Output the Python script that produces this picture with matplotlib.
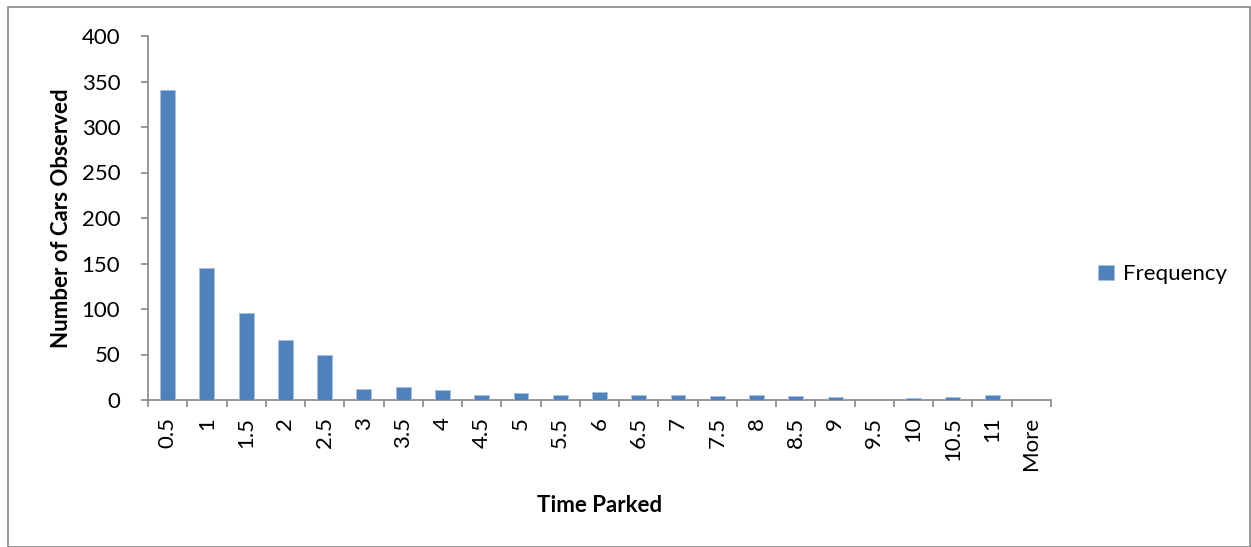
import matplotlib
matplotlib.use("Agg")
import matplotlib.pyplot as plt
from matplotlib.patches import Rectangle
import numpy as np

# Histogram of parking durations
bins = ["0.5", "1", "1.5", "2", "2.5", "3", "3.5", "4", "4.5", "5", "5.5",
        "6", "6.5", "7", "7.5", "8", "8.5", "9", "9.5", "10", "10.5", "11", "More"]
frequency = [341, 145, 96, 66, 49, 12, 14, 11, 5, 8, 5,
             9, 6, 5, 4, 6, 4, 3, 0, 2, 3, 5, 0]
y_ticks = [0, 50, 100, 150, 200, 250, 300, 350, 400]

plt.rcParams['font.family'] = ['Lato', 'DejaVu Sans']
axis_grey = "#868686"
bar_blue = "#4F81BD"
fs = 16

fig = plt.figure(figsize=(12.51, 5.47), dpi=100)
ax = fig.add_axes([148 / 1251, 1 - 400 / 547, (1051 - 148) / 1251, (400 - 36) / 547])

x = np.arange(len(bins))
ax.bar(x, frequency, width=0.38, color=bar_blue, edgecolor="#A7BFDE",
       linewidth=0.6, label="Frequency", zorder=3)

ax.set_xlim(-0.5, len(bins) - 0.5)
ax.set_ylim(0, 400)
ax.set_yticks(y_ticks)
ax.set_yticklabels([str(v) for v in y_ticks], fontsize=fs)

# category labels centred on bars, tick marks on the category boundaries
ax.set_xticks(x)
ax.set_xticklabels(bins, rotation=90, fontsize=fs)
ax.tick_params(axis="x", length=0, pad=12)
ax.set_xticks(np.arange(-0.5, len(bins)), minor=True)
ax.tick_params(axis="x", which="minor", length=5, width=1.2, color=axis_grey, direction="out")
ax.tick_params(axis="y", length=5, width=1.2, color=axis_grey, direction="out", pad=15)

for side in ["top", "right"]:
    ax.spines[side].set_visible(False)
for side in ["left", "bottom"]:
    ax.spines[side].set_color(axis_grey)
    ax.spines[side].set_linewidth(1.2)

ax.set_xlabel("Time Parked", fontsize=fs, fontweight="bold", labelpad=18)
ax.set_ylabel("Number of Cars Observed", fontsize=fs, fontweight="bold", labelpad=7)

ax.legend(loc="center left", bbox_to_anchor=(1.03, 0.345), frameon=False,
          fontsize=fs, handlelength=0.7, handleheight=0.7, handletextpad=0.4)

# chart area border
fig.patches.append(Rectangle((8 / 1251, 0), 1 - 8 / 1251 - 1 / 1251, 1 - 7 / 547,
                             transform=fig.transFigure, fill=False,
                             edgecolor=axis_grey, linewidth=1.2))

fig.savefig("out.png", dpi=100)
